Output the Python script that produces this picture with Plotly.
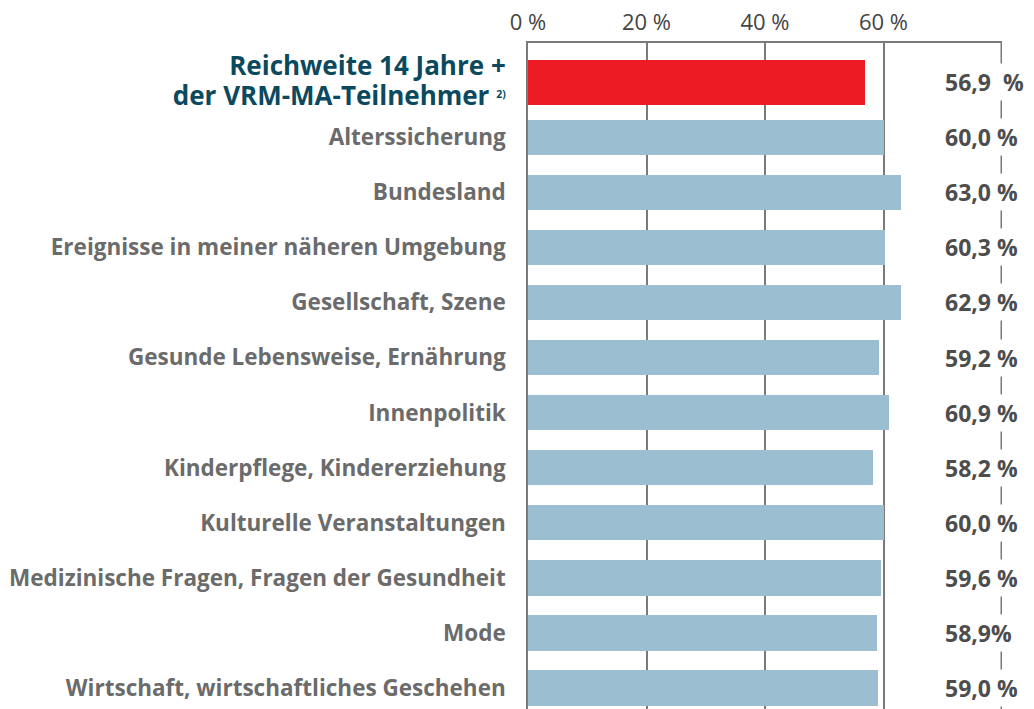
import plotly.graph_objects as go

categories = [
    "Reichweite 14 Jahre +",
    "Alterssicherung",
    "Bundesland",
    "Ereignisse in meiner näheren Umgebung",
    "Gesellschaft, Szene",
    "Gesunde Lebensweise, Ernährung",
    "Innenpolitik",
    "Kinderpflege, Kindererziehung",
    "Kulturelle Veranstaltungen",
    "Medizinische Fragen, Fragen der Gesundheit",
    "Mode",
    "Wirtschaft, wirtschaftliches Geschehen",
]
values = [56.9, 60.0, 63.0, 60.3, 62.9, 59.2, 60.9, 58.2, 60.0, 59.6, 58.9, 59.0]
value_labels = ["56,9\u00a0 %", "60,0 %", "63,0 %", "60,3 %", "62,9 %", "59,2 %",
                "60,9 %", "58,2 %", "60,0 %", "59,6 %", "58,9%", "59,0 %"]
x_ticks = [0, 20, 40, 60]
x_tick_labels = ["0 %", "20 %", "40 %", "60 %"]

RED = "#ed1c24"
BLUE = "#9bbed0"
TEAL = "#0b4a5e"
GRAY_TXT = "#6b6b6b"
VAL_TXT = "#4d4d4d"
LINE = "#7a7a7a"

colors = [RED] + [BLUE] * (len(categories) - 1)
widths = [0.82] + [0.64] * (len(categories) - 1)

tick_text = []
for i, c in enumerate(categories):
    if i == 0:
        tick_text.append(
            f"<span style='color:{TEAL};font-size:26px'>Reichweite 14 Jahre +<br>"
            "der VRM-MA-Teilnehmer <span style='font-size:15px'><sup>2)</sup></span></span>"
        )
    else:
        tick_text.append(c)

fig = go.Figure()
fig.add_trace(go.Bar(
    y=categories, x=values, orientation="h",
    marker=dict(color=colors, line=dict(width=0)),
    width=widths, hoverinfo="skip",
))

# right border line at 80 %
fig.add_shape(type="line", xref="x", yref="paper", x0=80, x1=80, y0=0, y1=1,
              line=dict(color=LINE, width=3), layer="below")

for c, lbl in zip(categories, value_labels):
    fig.add_annotation(x=69.8, y=c, xref="x", yref="y", text=lbl, showarrow=False,
                       xanchor="left", yanchor="middle", bgcolor="white", borderpad=2,
                       font=dict(family="Open Sans", size=23, color=VAL_TXT, weight="bold"))

# page body has an 8px default margin: figure is sized to fill the rest of the window
fig.update_layout(
    width=1026, height=701,
    margin=dict(l=520, r=32, t=35, b=0),
    plot_bgcolor="white", paper_bgcolor="white",
    showlegend=False,
    bargap=0,
    font=dict(family="Open Sans"),
    xaxis=dict(
        side="top", range=[0, 80], tickvals=x_ticks, ticktext=x_tick_labels,
        showgrid=True, gridcolor=LINE, gridwidth=1.5,
        showline=True, linecolor=LINE, linewidth=1.5,
        zeroline=False, ticks="", ticklabelstandoff=2,
        tickfont=dict(family="Open Sans", size=22, color="#444444"),
        fixedrange=True, automargin=False,
    ),
    yaxis=dict(
        categoryorder="array", categoryarray=categories,
        autorange=False, range=[11.38, -0.71],
        tickvals=categories, ticktext=tick_text,
        showline=True, linecolor=LINE, linewidth=1.5,
        showgrid=False, zeroline=False, ticks="", ticklabelstandoff=16,
        tickfont=dict(family="Open Sans", size=22.5, color=GRAY_TXT, weight="bold"),
        fixedrange=True, automargin=False,
    ),
)

fig.write_html("out.html")
